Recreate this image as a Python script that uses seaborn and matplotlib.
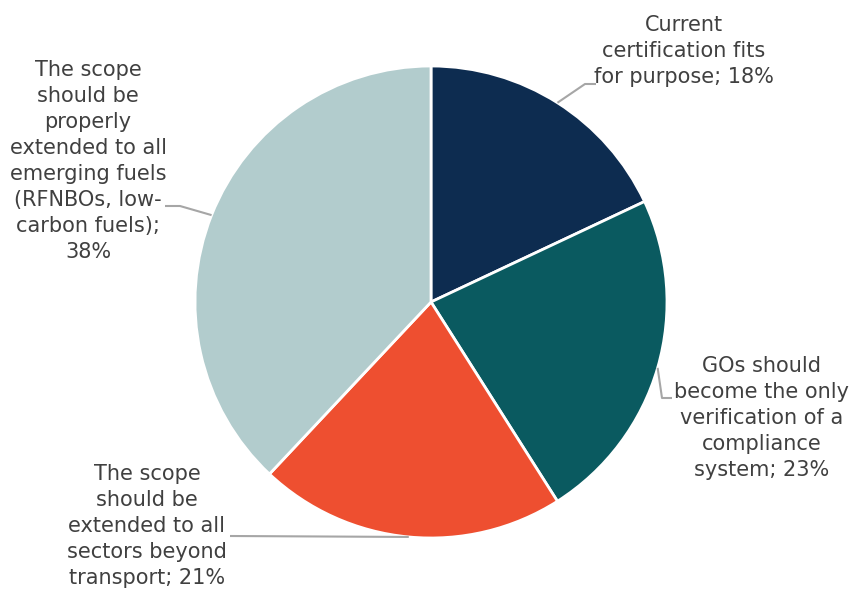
import numpy as np
import matplotlib
matplotlib.use("Agg")
import matplotlib.pyplot as plt
import seaborn as sns

# Survey answers on the certification scheme (share of respondents, %)
categories = [
    "Current\ncertification fits\nfor purpose",
    "GOs should\nbecome the only\nverification of a\ncompliance\nsystem",
    "The scope\nshould be\nextended to all\nsectors beyond\ntransport",
    "The scope\nshould be\nproperly\nextended to all\nemerging fuels\n(RFNBOs, low-\ncarbon fuels)",
]
shares = [18, 23, 21, 38]
colors = ["#0d2c50", "#0a5a60", "#ee4f30", "#b2cccd"]
# How the value is joined to each label
joiners = ["; ", "; ", "; ", ";\n"]

sns.set_theme(style="white")
plt.rcParams["font.family"] = ["DejaVu Sans"]

W, H = 850, 591
fig = plt.figure(figsize=(W / 100, H / 100), dpi=100)
fig.patch.set_facecolor("white")

# Pie centre and radius in pixels
cx, cy, R = 431, 302, 236
ax = fig.add_axes([(cx - R) / W, (H - cy - R) / H, 2 * R / W, 2 * R / H])
palette = sns.color_palette(colors)
wedges, _ = ax.pie(
    shares, colors=palette, startangle=90, counterclock=False, radius=1,
    wedgeprops=dict(edgecolor="white", linewidth=2),
)
ax.set_xlim(-1, 1)
ax.set_ylim(-1, 1)
ax.set_aspect("equal")
ax.axis("off")


def px2data(px, py):
    return (px - cx) / R, (cy - py) / R


# Leader-line bends and label placement (pixels)
bends = [
    [(585, 84), (596, 84)],
    [(662, 398), (672, 398)],
    [(230, 536)],
    [(180, 206), (165, 206)],
]
label_pos = [(684, 51), (762, 418), (147, 526), (88, 161)]

txt_color = "#404040"
for w, val, cat, jn, bend, (lx, ly) in zip(wedges, shares, categories, joiners,
                                             bends, label_pos):
    mid = np.deg2rad((w.theta1 + w.theta2) / 2)
    xs = [np.cos(mid)]
    ys = [np.sin(mid)]
    for bx, by in bend:
        dx, dy = px2data(bx, by)
        xs.append(dx)
        ys.append(dy)
    ax.plot(xs, ys, color="#a6a6a6", lw=1.5, clip_on=False, solid_capstyle="butt")
    fig.text(lx / W, 1 - ly / H, f"{cat}{jn}{val}%", ha="center", va="center",
             fontsize=15, color=txt_color, linespacing=1.38, multialignment="center")

fig.savefig("out.png", dpi=100, facecolor="white")
